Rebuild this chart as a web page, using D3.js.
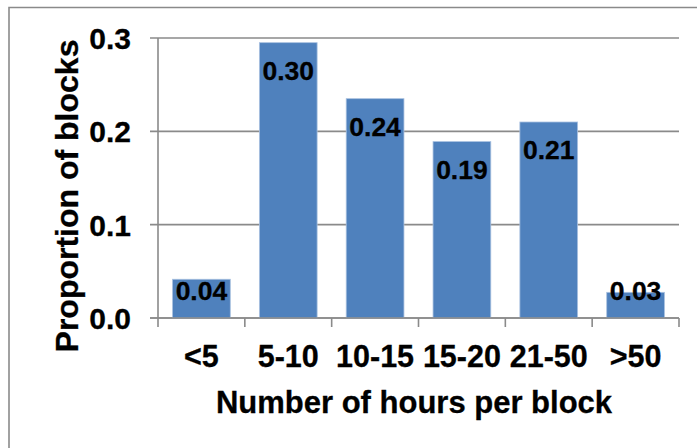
<!DOCTYPE html>
<html>
<head>
<meta charset="utf-8">
<script src="https://cdn.jsdelivr.net/npm/d3@7"></script>
<style>
  html, body { margin: 0; padding: 0; background: #fff; }
  svg { display: block; }
  text { font-family: "Liberation Sans", Arial, sans-serif; font-weight: bold; fill: #000; }
</style>
</head>
<body>
<svg id="chart" width="697" height="448"></svg>
<script>
const categories = ["<5", "5-10", "10-15", "15-20", "21-50", ">50"];
const values = [0.0415, 0.295, 0.235, 0.189, 0.21, 0.0275];
const valueLabels = ["0.04", "0.30", "0.24", "0.19", "0.21", "0.03"];
const yTicks = [0.0, 0.1, 0.2, 0.3];
const yTickLabels = ["0.0", "0.1", "0.2", "0.3"];

(function () {
const svg = d3.select("#chart");
const W = 697, H = 448;
const pLeft = 158, pRight = 679, pTop = 38, pBottom = 318;
const gray = "#8a8a8a";

// outer border (only top and left visible)
svg.append("path")
  .attr("d", `M9,${H} L9,7.5 L${W},7.5`)
  .attr("fill", "none").attr("stroke", gray).attr("stroke-width", 1.6);

const x = d3.scaleBand().domain(categories).range([pLeft, pRight]).padding(0);
const y = d3.scaleLinear().domain([0, 0.3]).range([pBottom, pTop]);

// gridlines and y ticks
svg.append("g").selectAll("line").data(yTicks).join("line")
  .attr("x1", pLeft - 8).attr("x2", pRight)
  .attr("y1", d => y(d)).attr("y2", d => y(d))
  .attr("stroke", gray).attr("stroke-width", 1.6);

// y axis line
svg.append("line")
  .attr("x1", pLeft).attr("x2", pLeft)
  .attr("y1", y(0.3)).attr("y2", y(0))
  .attr("stroke", gray).attr("stroke-width", 1.6);

// bars
const barW = x.bandwidth() * 0.665;
svg.append("g").selectAll("rect").data(values).join("rect")
  .attr("x", (d, i) => x(categories[i]) + (x.bandwidth() - barW) / 2)
  .attr("width", barW)
  .attr("y", d => y(d))
  .attr("height", d => y(0) - y(d))
  .attr("fill", "#4F81BD")
  .attr("stroke", "#a9c1e0").attr("stroke-width", 0.8);

// x axis line redrawn on top
svg.append("line")
  .attr("x1", pLeft - 8).attr("x2", pRight)
  .attr("y1", y(0)).attr("y2", y(0))
  .attr("stroke", gray).attr("stroke-width", 1.6);

// x ticks at band boundaries
const bounds = categories.map(c => x(c)).concat([pRight]);
svg.append("g").selectAll("line").data(bounds).join("line")
  .attr("x1", d => d).attr("x2", d => d)
  .attr("y1", y(0)).attr("y2", y(0) + 9)
  .attr("stroke", gray).attr("stroke-width", 1.6);

// data labels
svg.append("g").selectAll("text").data(values).join("text")
  .attr("x", (d, i) => x(categories[i]) + x.bandwidth() / 2)
  .attr("y", d => Math.min(y(d) + 37, y(0) - 18))
  .attr("text-anchor", "middle")
  .attr("font-size", 26.5)
  .attr("stroke", "#000").attr("stroke-width", 0.3)
  .text((d, i) => valueLabels[i]);

// y tick labels
svg.append("g").selectAll("text").data(yTicks).join("text")
  .attr("x", 131)
  .attr("y", d => y(d) + 11)
  .attr("text-anchor", "end")
  .attr("font-size", 30)
  .attr("stroke", "#000").attr("stroke-width", 0.3)
  .text((d, i) => yTickLabels[i]);

// category labels
svg.append("g").selectAll("text").data(categories).join("text")
  .attr("x", d => x(d) + x.bandwidth() / 2)
  .attr("y", 367)
  .attr("text-anchor", "middle")
  .attr("font-size", 30.5)
  .attr("stroke", "#000").attr("stroke-width", 0.3)
  .text(d => d);

// axis titles
svg.append("text")
  .attr("x", 414).attr("y", 413)
  .attr("text-anchor", "middle")
  .attr("font-size", 31)
  .attr("stroke", "#000").attr("stroke-width", 0.3)
  .text("Number of hours per block");

svg.append("text")
  .attr("transform", "translate(78,196) rotate(-90)")
  .attr("text-anchor", "middle")
  .attr("font-size", 32)
  .attr("stroke", "#000").attr("stroke-width", 0.3)
  .text("Proportion of blocks");
})();
</script>
</body>
</html>
